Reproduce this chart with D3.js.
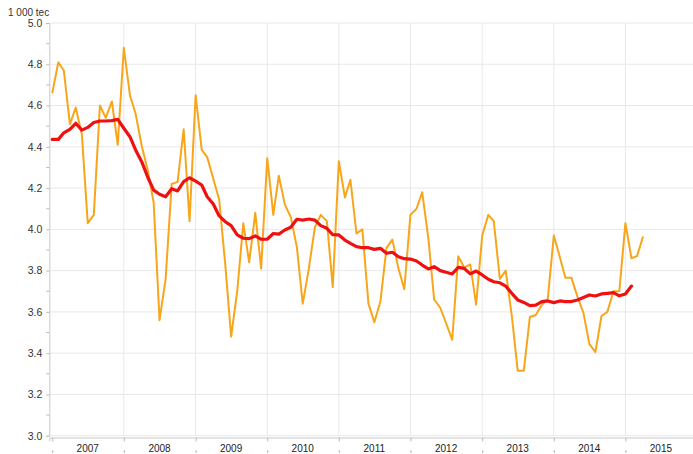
<head>
  <script src="https://d3js.org/d3.v7.min.js"></script>
</head>
<style>
body{ margin:0; background:#fff; }
.yAxis text{ font: 10.5px "Liberation Sans", Arial, sans-serif; fill:#333; }
.xAxis text{ font: 10px "Liberation Sans", Arial, sans-serif; fill:#222; }
</style>
<body>
  <svg id="svg_chart"/>
</body>
<script>
  var w = 693;
  var h = 454;

// monthly values, first point = Jan 2007
  var startYear = 2007;
  var monthly_values = [
    4.66, 4.81, 4.77, 4.51, 4.59, 4.46, 4.03, 4.07, 4.60, 4.54, 4.62, 4.41,
    4.88, 4.65, 4.56, 4.405, 4.29, 4.13, 3.56, 3.76, 4.22, 4.23, 4.485, 4.04,
    4.65, 4.385, 4.35, 4.245, 4.145, 3.83, 3.48, 3.70, 4.03, 3.84, 4.08, 3.81,
    4.345, 4.07, 4.26, 4.12, 4.06, 3.915, 3.64, 3.81, 4.01, 4.07, 4.04, 3.72,
    4.33, 4.155, 4.24, 3.98, 4.00, 3.64, 3.55, 3.65, 3.91, 3.95, 3.81, 3.71,
    4.07, 4.10, 4.18, 3.96, 3.66, 3.62, 3.545, 3.465, 3.87, 3.815, 3.83, 3.635,
    3.97, 4.07, 4.04, 3.76, 3.80, 3.58, 3.315, 3.315, 3.575, 3.585, 3.635, 3.66,
    3.97, 3.865, 3.765, 3.765, 3.675, 3.595, 3.445, 3.405, 3.58, 3.60, 3.70, 3.70,
    4.03, 3.86, 3.87, 3.965
  ];
// trend (moving average), same start
  var trend_values = [
    4.436, 4.436, 4.468, 4.485, 4.514, 4.481, 4.494, 4.518, 4.525, 4.525, 4.527, 4.533,
    4.49, 4.449, 4.385, 4.328, 4.255, 4.19, 4.17, 4.158, 4.197, 4.186, 4.231, 4.25,
    4.234, 4.215, 4.158, 4.123, 4.065, 4.037, 4.018, 3.973, 3.957, 3.955, 3.968, 3.952,
    3.952, 3.98, 3.977, 3.997, 4.01, 4.049, 4.045, 4.05, 4.045, 4.018, 4.005, 3.974,
    3.973, 3.948, 3.932, 3.916, 3.911, 3.911, 3.903, 3.908, 3.884, 3.889, 3.867, 3.858,
    3.856, 3.847, 3.827, 3.808, 3.819, 3.80, 3.792, 3.784, 3.816, 3.811, 3.784, 3.798,
    3.779, 3.758, 3.746, 3.741, 3.725, 3.69, 3.658, 3.646, 3.63, 3.633, 3.65, 3.653,
    3.645, 3.653, 3.65, 3.65, 3.658, 3.67, 3.682, 3.677, 3.687, 3.69, 3.693, 3.678,
    3.687, 3.725
  ];
  var year_labels = [2007, 2008, 2009, 2010, 2011, 2012, 2013, 2014, 2015];
  var y_ticks = [3.0, 3.2, 3.4, 3.6, 3.8, 4.0, 4.2, 4.4, 4.6, 4.8, 5.0];
  var y_minor = [3.1, 3.3, 3.5, 3.7, 3.9, 4.1, 4.3, 4.5, 4.7, 4.9];
  var unit_label = "1 000 tec";

  var plot = {left: 49.3, right: 697, top: 23, bottom: 435.7};

  var xScale = d3.scaleTime()
      .domain([new Date(2006, 11, 17), new Date(2016, 0, 1)])
      .range([plot.left, plot.right]);
  var yScale = d3.scaleLinear()
      .domain([3.0, 5.0])
      .range([plot.bottom, plot.top]);

  var toDate = function(i){ return new Date(startYear, i, 1); };
  var yearStarts = year_labels.map(function(y){ return new Date(y, 0, 1); }).concat([new Date(2016, 0, 1)]);

  var svg = d3.select("svg#svg_chart")
      .attr("width", w)
      .attr("height", h);

// grid
  svg.append("g").selectAll("line.hg")
      .data(y_ticks)
      .enter().append("line")
      .attr("x1", plot.left).attr("x2", w)
      .attr("y1", function(d){ return yScale(d); })
      .attr("y2", function(d){ return yScale(d); })
      .attr("stroke", "#e8e8e8").attr("stroke-width", 1);
  svg.append("g").selectAll("line.vg")
      .data(yearStarts.slice(1))
      .enter().append("line")
      .attr("x1", function(d){ return xScale(d); })
      .attr("x2", function(d){ return xScale(d); })
      .attr("y1", plot.top).attr("y2", plot.bottom)
      .attr("stroke", "#e8e8e8").attr("stroke-width", 1);

// y axis
  var yAxis = d3.axisLeft(yScale)
      .tickValues(y_ticks)
      .tickFormat(d3.format(".1f"))
      .tickSize(3)
      .tickPadding(4);
  var gy = svg.append("g")
      .attr("class", "yAxis")
      .attr("transform", "translate(" + plot.left + ",0)")
      .call(yAxis);
  gy.select(".domain").attr("stroke", "#c8c8c8");
  gy.selectAll(".tick line").attr("stroke", "#bbb");
  gy.append("g").selectAll("line")
      .data(y_minor)
      .enter().append("line")
      .attr("x1", -3).attr("x2", 0)
      .attr("y1", function(d){ return yScale(d); })
      .attr("y2", function(d){ return yScale(d); })
      .attr("stroke", "#bbb");

  svg.append("text")
      .attr("x", 8).attr("y", 16)
      .style("font", "10px 'Liberation Sans', Arial, sans-serif")
      .style("fill", "#333")
      .text(unit_label);

// x axis: ticks at year starts, labels mid-year
  var axisY = 437.5;
  var xAxis = d3.axisBottom(xScale)
      .tickValues(yearStarts)
      .tickFormat("")
      .tickSizeOuter(0)
      .tickSize(4);
  var gx = svg.append("g")
      .attr("class", "xAxis")
      .attr("transform", "translate(0," + axisY + ")")
      .call(xAxis);
  gx.select(".domain").attr("stroke", "#c8c8c8");
  gx.selectAll(".tick line").attr("stroke", "#bbb");
  gx.selectAll(".tick").append("line")
      .attr("y1", 13).attr("y2", 15)
      .attr("stroke", "#999");
  gx.selectAll("text.yr")
      .data(year_labels)
      .enter().append("text")
      .attr("class", "yr")
      .attr("x", function(d){ return xScale(new Date(d, 6, 1)); })
      .attr("y", 14.5)
      .attr("text-anchor", "middle")
      .text(function(d){ return d; });

// lines
  var line = d3.line()
      .x(function(d, i){ return xScale(toDate(i)); })
      .y(function(d){ return yScale(d); });

  svg.append("path")
      .datum(monthly_values)
      .attr("fill", "none")
      .attr("stroke", "#f7a61c")
      .attr("stroke-width", 2)
      .attr("stroke-linejoin", "round")
      .attr("d", line);

  svg.append("path")
      .datum(trend_values)
      .attr("fill", "none")
      .attr("stroke", "#ee1111")
      .attr("stroke-width", 3.2)
      .attr("stroke-linejoin", "round")
      .attr("stroke-linecap", "round")
      .attr("d", line);
</script>
